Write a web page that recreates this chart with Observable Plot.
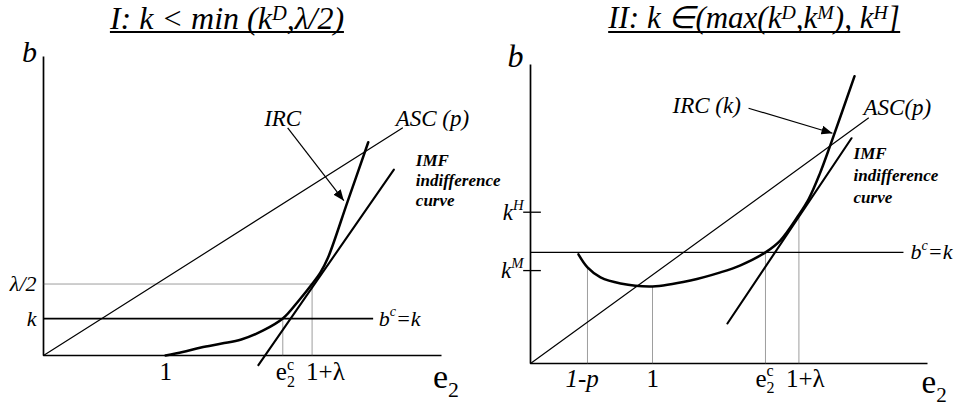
<!DOCTYPE html>
<html>
<head>
<meta charset="utf-8">
<script src="https://cdn.jsdelivr.net/npm/d3@7"></script>
<script src="https://cdn.jsdelivr.net/npm/@observablehq/plot@0.6"></script>
<style>
  html, body { margin: 0; padding: 0; background: #fff; }
  #chart { position: relative; width: 959px; height: 407px; overflow: hidden; font-family: "Liberation Serif", "Liberation Sans", Arial, sans-serif; }
  .panel { position: absolute; top: 0; height: 407px; }
  .panel svg { position: absolute; top: 40px; left: 0; overflow: visible; background: transparent; }
  .title { position: absolute; top: 0; height: 38px; transform: translateX(-50%); white-space: nowrap; font-style: italic;
           font-size: 31px; line-height: 36px; padding: 0; }
  .title::after { content: ""; position: absolute; left: 0; right: 0; top: 31px; height: 2px; background: #000; }
  .title sup { font-size: 64%; line-height: 0; vertical-align: 0.45em; }
</style>
</head>
<body>
<div id="chart">
  <div class="panel" id="panel1" style="left:0;width:480px"></div>
  <div class="panel" id="panel2" style="left:480px;width:479px"></div>
</div>
<script>
// ---- shared values ----
const lambda = 1.2;
const yMax = 2.51;

// ---- Panel I: k < min(k^D, λ/2) ----
const titleI = "I: k < min (k^{D},λ/2)";
const xMaxI = 3.26;
const kI = 0.31;
const e2cI = 1.96;
const bcEndI = 2.70;
const ascI_e2 = [0, 2.94];
const ascI_b = [0, 1.91];
const imfI_e2 = [1.76, 2.87];
const imfI_b = [-0.08, 1.56];
const ircI_e2 = [1.00, 1.14, 1.29, 1.46, 1.62, 1.80, 1.96, 2.09, 2.20, 2.27, 2.33, 2.49, 2.66];
const ircI_b  = [0.00, 0.03, 0.067, 0.10, 0.134, 0.21, 0.31, 0.46, 0.60, 0.70, 0.82, 1.29, 1.79];
const arrowI = [2.00, 1.91, 2.46, 1.30];
const xTickLabelsI = ["1", "e_{2}^{c}", "1+λ"];
const xTickValuesI = [1, e2cI, 1 + lambda];
const yTickLabelsI = ["λ/2", "k"];
const yTickValuesI = [lambda / 2, kI];

// ---- Panel II: k ∈ (max(k^D, k^M), k^H] ----
const titleII = "II: k ∈(max(k^{D},k^{M}), k^{H}]";
const xMaxII = 3.254;
const kII = 0.933;
const kM = 0.78;
const kH = 1.27;
const oneMinusP = 0.467;
const e2cII = 1.926;
const bcEndII = 3.057;
const ascII_e2 = [0, 2.77];
const ascII_b = [0, 2.06];
const imfII_e2 = [1.614, 2.631];
const imfII_b = [0.336, 1.891];
const ircII_e2 = [0.393, 0.467, 0.574, 0.738, 1.0, 1.311, 1.557, 1.721, 1.926, 2.049, 2.197, 2.28, 2.37, 2.46, 2.656];
const ircII_b  = [0.916, 0.807, 0.723, 0.672, 0.647, 0.697, 0.765, 0.824, 0.933, 1.034, 1.244, 1.38, 1.59, 1.84, 2.412];
const arrowII = [1.787, 2.143, 2.475, 1.933];
const xTickLabelsII = ["1-p", "1", "e_{2}^{c}", "1+λ"];
const xTickValuesII = [oneMinusP, 1, e2cII, 1 + lambda];
const yTickLabelsII = ["k^{H}", "k^{M}"];
const yTickValuesII = [kH, kM];

// ---- helpers ----
const face = "'Liberation Serif', 'Liberation Sans', Arial, sans-serif";
const SVGNS = "http://www.w3.org/2000/svg";

function label(text, x, y, o = {}) {
  return Plot.text([{x, y, text}], {x: "x", y: "y", text: "text", fontFamily: face, fill: "black", ...o});
}
function seg(x1, y1, x2, y2, o = {}) {
  return Plot.link([{x1, y1, x2, y2}], {x1: "x1", y1: "y1", x2: "x2", y2: "y2", stroke: "black", ...o});
}
function curve(xs, ys, o = {}) {
  return Plot.line(d3.zip(xs, ys), {stroke: "black", ...o});
}
// filled arrowhead marker
function arrowHead(color) {
  const m = document.createElementNS(SVGNS, "marker");
  m.setAttribute("viewBox", "-11 -4.5 11 9");
  m.setAttribute("markerWidth", 11);
  m.setAttribute("markerHeight", 9);
  m.setAttribute("markerUnits", "userSpaceOnUse");
  m.setAttribute("orient", "auto");
  m.setAttribute("refX", 0);
  m.setAttribute("refY", 0);
  const p = document.createElementNS(SVGNS, "path");
  p.setAttribute("d", "M-11,-4.5L0,0L-11,4.5Z");
  p.setAttribute("fill", color);
  p.setAttribute("stroke", "none");
  m.appendChild(p);
  return m;
}
// turn "x^{a}" / "x_{b}" into super/subscript tspans
function richText(svg) {
  svg.querySelectorAll("text").forEach(text => {
    const src = text.textContent;
    if (!/[\^_]\{/.test(src)) return;
    const fs = parseFloat(getComputedStyle(text).fontSize);
    text.textContent = "";
    let shift = 0, prev = null, prevKind = null;
    for (const m of src.matchAll(/([_^])\{([^}]*)\}|([^_^]+)/g)) {
      const kind = m[1] === "^" ? "sup" : m[1] === "_" ? "sub" : "base";
      const target = kind === "sup" ? -0.42 * fs : kind === "sub" ? 0.26 * fs : 0;
      const ts = document.createElementNS(SVGNS, "tspan");
      ts.textContent = m[1] ? m[2] : m[3];
      if (kind !== "base") ts.setAttribute("font-size", (0.64 * fs).toFixed(1));
      ts.setAttribute("dy", (target - shift).toFixed(2));
      if (kind === "sup" && prevKind === "sub") ts.setAttribute("dx", (-prev.getComputedTextLength()).toFixed(2));
      text.appendChild(ts);
      shift = target; prev = ts; prevKind = kind;
    }
  });
}
function titleHTML(s) {
  return s.replace(/&/g, "&amp;").replace(/</g, "&lt;").replace(/\^\{([^}]*)\}/g, "<sup>$1</sup>");
}

const dotted = {stroke: "#3c3c3c", strokeWidth: 1, strokeDasharray: "1,1"};
const italic = {fontStyle: "italic"};
const imfText = ["IMF", "indifference", "curve"];

function makePlot(cfg, marks) {
  return Plot.plot({
    width: cfg.width, height: 367,
    marginLeft: cfg.ml, marginRight: cfg.mr, marginTop: cfg.mt, marginBottom: cfg.mb,
    x: {domain: [0, cfg.xMax], axis: null},
    y: {domain: [0, yMax], axis: null},
    style: {background: "transparent", overflow: "visible", fontFamily: face},
    marks
  });
}

function build(useHead) {
  const head = useHead ? arrowHead : "arrow";

  const marksI = [
    // axes
    seg(0, 0, 0, yMax, {strokeWidth: 1.7}),
    seg(0, 0, xMaxI, 0, {strokeWidth: 1.7}),
    // dotted guides
    seg(0, lambda / 2, 1 + lambda, lambda / 2, dotted),
    seg(1 + lambda, 0, 1 + lambda, lambda / 2, dotted),
    seg(e2cI, 0, e2cI, kI, dotted),
    // b^c = k
    seg(0, kI, bcEndI, kI, {strokeWidth: 1.8}),
    // ASC(p)
    curve(ascI_e2, ascI_b, {strokeWidth: 1.2}),
    // IMF indifference curve (tangent line)
    curve(imfI_e2, imfI_b, {strokeWidth: 2.1}),
    // IRC
    curve(ircI_e2, ircI_b, {strokeWidth: 2.5, curve: "catmull-rom"}),
    // arrow from the IRC label
    seg(...arrowI, {strokeWidth: 1.2, markerEnd: head}),
    // text
    label("b", -0.115, 2.546, {fontSize: 30, ...italic}),
    label("e_{2}", 3.19, -0.185, {fontSize: 34, textAnchor: "start"}),
    ...yTickLabelsI.map((t, i) => label(t, 0, yTickValuesI[i], {fontSize: 22, textAnchor: "end", dx: -7, ...italic})),
    ...xTickLabelsI.map((t, i) => label(t, xTickValuesI[i], -0.14, {fontSize: 25, textAnchor: "start", dx: [-6, -7, -6][i]})),
    label("IRC", 1.959, 1.99, {fontSize: 23, ...italic}),
    label("ASC (p)", 2.885, 1.99, {fontSize: 23, textAnchor: "start", ...italic}),
    ...imfText.map((t, i) => label(t, 3.05, [1.64, 1.47, 1.30][i], {fontSize: 17, fontWeight: "bold", textAnchor: "start", ...italic})),
    label("b^{c}=k", 2.746, kI, {fontSize: 22, textAnchor: "start", ...italic})
  ];

  const marksII = [
    seg(0, 0, 0, yMax, {strokeWidth: 1.7}),
    seg(0, 0, xMaxII, 0, {strokeWidth: 1.7}),
    // k^H and k^M ticks
    ...yTickValuesII.map(v => seg(-0.06, v, 0.085, v, {strokeWidth: 1.3})),
    // dotted guides from the IRC down to the e2 axis
    seg(oneMinusP, 0, oneMinusP, ircII_b[1], dotted),
    seg(1, 0, 1, ircII_b[4], dotted),
    seg(e2cII, 0, e2cII, kII, dotted),
    seg(1 + lambda, 0, 1 + lambda, ircII_b[10], dotted),
    // b^c = k
    seg(0, kII, bcEndII, kII, {strokeWidth: 1.3}),
    curve(ascII_e2, ascII_b, {strokeWidth: 1.2}),
    curve(imfII_e2, imfII_b, {strokeWidth: 2.1}),
    curve(ircII_e2, ircII_b, {strokeWidth: 2.5, curve: "catmull-rom"}),
    seg(...arrowII, {strokeWidth: 1.2, markerEnd: head}),
    label("b", -0.123, 2.571, {fontSize: 32, ...italic}),
    label("e_{2}", 3.205, -0.16, {fontSize: 33, textAnchor: "start"}),
    ...yTickLabelsII.map((t, i) => label(t, 0, yTickValuesII[i], {fontSize: 23, textAnchor: "end", dx: -7, ...italic})),
    ...xTickLabelsII.map((t, i) => label(t, xTickValuesII[i], -0.126, {fontSize: 25, textAnchor: "start", dx: [-22, -6, -10, -13][i], ...(i === 0 ? italic : {})})),
    label("IRC (k)", 1.164, 2.168, {fontSize: 23, textAnchor: "start", ...italic}),
    label("ASC(p)", 2.73, 2.151, {fontSize: 23, textAnchor: "start", ...italic}),
    ...imfText.map((t, i) => label(t, 2.648, [1.765, 1.58, 1.395][i], {fontSize: 17, fontWeight: "bold", textAnchor: "start", ...italic})),
    label("b^{c}=k", 3.115, kII, {fontSize: 22, textAnchor: "start", ...italic})
  ];

  return [
    makePlot({width: 480, ml: 43, mr: 39, mt: 16, mb: 52, xMax: xMaxI}, marksI),
    makePlot({width: 479, ml: 50, mr: 32, mt: 24, mb: 44, xMax: xMaxII}, marksII)
  ];
}

let plots;
try { plots = build(true); } catch (e) { plots = build(false); }

[[titleI, 227, plots[0], "panel1", 32], [titleII, 274, plots[1], "panel2", 31]].forEach(([title, cx, svg, id, size]) => {
  const panel = document.getElementById(id);
  const t = document.createElement("div");
  t.className = "title";
  t.style.left = cx + "px";
  t.style.fontSize = size + "px";
  t.innerHTML = titleHTML(title);
  panel.appendChild(t);
  panel.appendChild(svg);
  richText(svg);
});
</script>
</body>
</html>
